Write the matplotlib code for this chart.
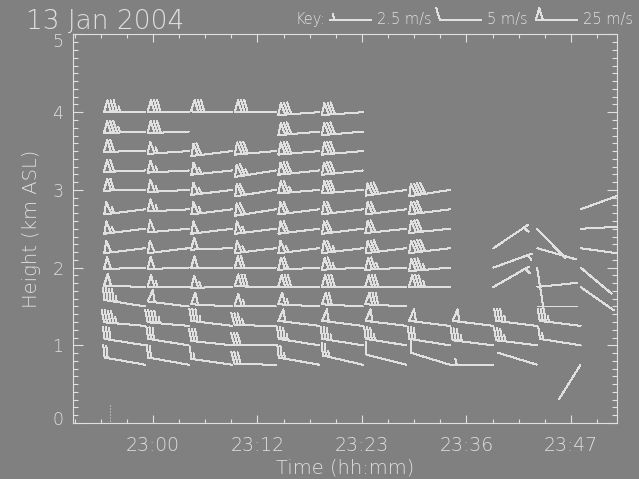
import numpy as np
import matplotlib
matplotlib.use('Agg')
import matplotlib.pyplot as plt
import matplotlib.transforms as mtransforms

FG = '#e0e0e0'
BG = '#808080'
plt.rcParams['font.family'] = ['DejaVu Sans']
plt.rcParams['font.weight'] = 'light'
plt.rcParams['axes.labelweight'] = 'light'

# profile times, minutes after 23:00
times = [-0.9, 4.1, 9.1, 14.1, 19.1, 24.1, 29.1, 34.1, 39.1, 44.1, 49.1]
# gate heights (km ASL), top to bottom
heights = [4.0, 3.75, 3.5, 3.25, 3.0, 2.75, 2.5, 2.25, 2.0, 1.75, 1.5, 1.25, 1.0, 0.75]

# wind speed (m/s) and direction (deg, from) for each profile
N = None
spd_1 = [37.5, 37.5, 30, 30, 30, 27.5, 27.5, 25, 25, 25, 22.5, 22.5, 15, 10]
dir_1 = [270, 268, 269, 268, 269, 263, 263, 263, 268, 272, 279, 275, 279, 280]
spd_2 = [35, 35, 27.5, 27.5, 27.5, 27.5, 25, 25, 25, 27.5, 25, 22.5, 15, 10]
dir_2 = [270, 268, 266, 267, 267, 267, 265, 263, 268, 270, 277, 275, 279, 280]
spd_3 = [35, N, 30, 27.5, 27.5, 27.5, 25, 25, 25, 27.5, 25, 17.5, 15, 7.5]
dir_3 = [271, N, 263, 264, 263, 263, 263, 268, 269, 269, 273, 277, 276, 278]
spd_4 = [35, N, 35, 32.5, 30, 30, 27.5, 27.5, 30, 35, 27.5, 17.5, 15, 15]
dir_4 = [270, N, 265, 261, 261, 261, 263, 263, 269, 271, 271, 271, 270, 271]
spd_5 = [35, 35, 35, 35, 32.5, 30, 30, 27.5, 30, 35, 27.5, 25, 17.5, 12.5]
dir_5 = [266, 265, 265, 264, 265, 263, 263, 263, 267, 270, 273, 277, 279, 280]
spd_6 = [35, 35, 35, 35, 35, 30, 30, 32.5, 32.5, 35, 30, 25, 17.5, 12.5]
dir_6 = [266, 265, 265, 264, 265, 263, 263, 263, 267, 270, 273, 277, 279, 283]
spd_7 = [N, N, N, N, 35, 30, 30, 35, 32.5, 35, 35, 25, 17.5, 5]
dir_7 = [N, N, N, N, 262, 263, 264, 263, 267, 270, 273, 277, 279, 284]
spd_8 = [N, N, N, N, 40, 35, 35, 40, 37.5, 37.5, N, 25, 15, 5]
dir_8 = [N, N, N, N, 261, 263, 264, 263, 265, 270, N, 277, 279, 287]
spd_9 = [N, N, N, N, N, N, N, 2.5, 2.5, 2.5, N, 25, 17.5, 2.5]
dir_9 = [N, N, N, N, N, N, N, 56, 70, 60, N, 277, 277, 270]
spd_10 = [N, N, N, N, N, N, 1, 1, 1, 1, 1, 17.5, 17.5, 1]
dir_10 = [N, N, N, N, N, N, 136, 106, 171, 84, 90, 277, 277, 287]
spd_11 = [N, N, N, N, N, 1, 1, 1, 1, 1, N, 17.5, 7.5, 1]
dir_11 = [N, N, N, N, N, 70, 87, 98, 130, 125, N, 277, 279, 212]

all_spd = [spd_1, spd_2, spd_3, spd_4, spd_5, spd_6, spd_7, spd_8, spd_9, spd_10, spd_11]
all_dir = [dir_1, dir_2, dir_3, dir_4, dir_5, dir_6, dir_7, dir_8, dir_9, dir_10, dir_11]

xtick_pos = [0, 12, 24, 36, 48]
xtick_lab = ['23:00', '23:12', '23:23', '23:36', '23:47']

key_spd = [2.5, 5, 25]
key_lab = ['2.5 m/s', '5 m/s', '25 m/s']

# dotted marker near the ground at the start
gate_t = -4.9
gate_h = [0.02, 0.25]

fig = plt.figure(figsize=(6.39, 4.79), dpi=100, facecolor=BG)
ax = fig.add_axes([0.1147, 0.1169, 0.8504, 0.8111], facecolor=BG)

X, Y, S, D = [], [], [], []
for t, sp, dr in zip(times, all_spd, all_dir):
    for h, s, d in zip(heights, sp, dr):
        if s is None:
            continue
        X.append(t); Y.append(h); S.append(s); D.append(d)
X = np.array(X); Y = np.array(Y); S = np.array(S, float); D = np.deg2rad(D)
u = -S * np.sin(D)
v = -S * np.cos(D)

incr = dict(half=2.5, full=5, flag=25)
bsize = dict(spacing=0.075, height=0.29, width=0.17, emptybarb=0.0)
windy = S >= 1.25
ax.barbs(X[windy], Y[windy], u[windy], v[windy], length=7.7, pivot='tip',
         barbcolor=FG, flagcolor='none', linewidth=0.72, antialiased=False,
         barb_increments=incr, sizes=bsize)
calm = ~windy
ax.quiver(X[calm], Y[calm], np.sin(D[calm]), np.cos(D[calm]), pivot='tail',
          scale=1 / 41.0, scale_units='dots', units='dots', width=1.0,
          headwidth=0, headlength=0, headaxislength=0, color=FG,
          antialiased=False)
ax.plot([gate_t, gate_t], gate_h, color=FG, lw=0.72, ls=(0, (1, 2)))

ax.set_xlim(-9.15, 53.25)
ax.set_ylim(0, 5)
ax.set_xticks(xtick_pos)
ax.set_xticklabels(xtick_lab)
ax.set_xticks(np.arange(-9, 54, 3), minor=True)
ax.set_yticks(range(6))
ax.set_yticks(np.arange(0, 5.01, 0.1), minor=True)
for s in ax.spines.values():
    s.set_color(FG)
    s.set_linewidth(0.8)
ax.tick_params(which='both', direction='in', top=True, right=True, color=FG,
               labelcolor=FG, width=0.8)
ax.tick_params(axis='x', which='major', length=5.5, labelsize=13.5, pad=9)
ax.tick_params(axis='x', which='minor', length=3)
ax.tick_params(axis='y', which='major', length=7.2, labelsize=12.5, pad=7)
ax.tick_params(axis='y', which='minor', length=3.6)
ax.set_xlabel('Time (hh:mm)', color=FG, fontsize=14, labelpad=3)
ax.set_ylabel('Height (km ASL)', color=FG, fontsize=14, labelpad=8)

# end labels of the height axis sit inside the axis range
ylabs = ax.get_yticklabels()
ylabs[0].set_transform(ylabs[0].get_transform() +
                       mtransforms.ScaledTranslation(0, 5 / 100, fig.dpi_scale_trans))
ylabs[-1].set_transform(ylabs[-1].get_transform() +
                        mtransforms.ScaledTranslation(0, -6 / 100, fig.dpi_scale_trans))

# title and key along the top
fig.text(26 / 639, 1 - 29 / 479, '13 Jan 2004', color=FG, fontsize=19, va='baseline')
kax = fig.add_axes([0, 0, 1, 1], facecolor='none')
kax.set_xlim(0, 639)
kax.set_ylim(0, 479)
kax.axis('off')
key_x = [371, 481, 577]
kax.barbs(key_x, [459] * 3, key_spd, [0] * 3, length=7.7, pivot='tip',
          barbcolor=FG, flagcolor='none', linewidth=0.72, antialiased=False,
          barb_increments=incr, sizes=bsize)
kax.text(296, 460, 'Key:', color=FG, fontsize=10.5, va='center')
for x, lab in zip(key_x, key_lab):
    kax.text(x + 6, 460, lab, color=FG, fontsize=10.5, va='center')

fig.savefig('out.png', dpi=100, facecolor=BG)
